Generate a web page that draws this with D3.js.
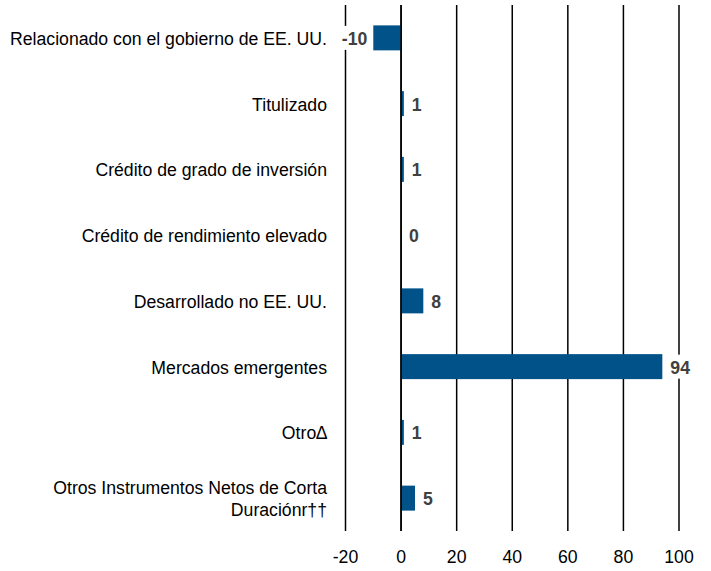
<!DOCTYPE html>
<html>
<head>
<meta charset="utf-8">
<script src="https://cdn.jsdelivr.net/npm/d3@7"></script>
<style>
  body { margin: 0; background: #fff; }
  text { font-family: "Liberation Sans", Arial, sans-serif; }
</style>
</head>
<body>
<script>
const categories = [
  ["Relacionado con el gobierno de EE. UU."],
  ["Titulizado"],
  ["Crédito de grado de inversión"],
  ["Crédito de rendimiento elevado"],
  ["Desarrollado no EE. UU."],
  ["Mercados emergentes"],
  ["Otro\u2206"],
  ["Otros Instrumentos Netos de Corta", "Duraciónr\u2020\u2020"]
];
const values = [-10, 1, 1, 0, 8, 94, 1, 5];
const ticks = [-20, 0, 20, 40, 60, 80, 100];

const width = 711;
const height = 571;
const plotTop = 5, plotBottom = 531;
const plotLeft = 345.5, plotRight = 679;
const squeeze = 0.93; // narrow look of the original font

const svg = d3.select("body")
  .append("svg")
  .attr("width", width)
  .attr("height", height);

const xScale = d3.scaleLinear()
  .domain([-20, 100])
  .range([plotLeft, plotRight]);

const yScale = d3.scaleBand()
  .domain(d3.range(categories.length))
  .range([plotTop, plotBottom])
  .paddingInner(0.62)
  .paddingOuter(0.31);

const place = (x, y) => `translate(${x},${y}) scale(${squeeze},1)`;

// gridlines
svg.append("g")
  .selectAll("line")
  .data(ticks)
  .enter()
  .append("line")
  .attr("x1", (d) => xScale(d))
  .attr("x2", (d) => xScale(d))
  .attr("y1", plotTop)
  .attr("y2", plotBottom)
  .attr("stroke", "#000")
  .attr("stroke-width", 1.5);

// tick labels
svg.append("g")
  .selectAll("text")
  .data(ticks)
  .enter()
  .append("text")
  .attr("transform", (d) => place(xScale(d), 563))
  .attr("text-anchor", "middle")
  .style("font-size", "19px")
  .attr("fill", "#000")
  .text((d) => d);

// bars
svg.append("g")
  .selectAll("rect")
  .data(values)
  .enter()
  .append("rect")
  .attr("x", (d) => xScale(Math.min(0, d)))
  .attr("y", (d, i) => yScale(i))
  .attr("width", (d) => Math.abs(xScale(d) - xScale(0)))
  .attr("height", yScale.bandwidth())
  .attr("fill", "#005288");

// zero line on top
svg.append("line")
  .attr("x1", xScale(0))
  .attr("x2", xScale(0))
  .attr("y1", plotTop)
  .attr("y2", plotBottom)
  .attr("stroke", "#000")
  .attr("stroke-width", 1.5);

// value labels, white box behind so gridlines break
svg.append("g")
  .selectAll("g")
  .data(values)
  .enter()
  .append("g")
  .each(function (d, i) {
    const g = d3.select(this);
    const cy = yScale(i) + yScale.bandwidth() / 2;
    const neg = d < 0;
    const x = neg ? xScale(d) - 6 : xScale(d) + 8;
    const t = g.append("text")
      .attr("transform", place(x, cy + 7))
      .attr("text-anchor", neg ? "end" : "start")
      .style("font-size", "19px")
      .style("font-weight", "bold")
      .attr("fill", "#404040")
      .text(d);
    const b = t.node().getBBox();
    const w = b.width * squeeze;
    const bx = neg ? x - w : x;
    g.insert("rect", "text")
      .attr("x", bx - 2)
      .attr("y", cy - 12)
      .attr("width", w + 4)
      .attr("height", 24)
      .attr("fill", "#fff");
  });

// category labels
svg.append("g")
  .selectAll("text")
  .data(categories)
  .enter()
  .append("text")
  .attr("text-anchor", "end")
  .attr("fill", "#000")
  .style("font-size", "19px")
  .each(function (lines, i) {
    const cy = yScale(i) + yScale.bandwidth() / 2;
    const lh = 22;
    const y0 = cy + 7 - (lines.length - 1) * lh / 2;
    d3.select(this)
      .attr("transform", place(327, y0))
      .selectAll("tspan")
      .data(lines)
      .enter()
      .append("tspan")
      .attr("x", 0)
      .attr("y", (l, j) => j * lh)
      .text((l) => l);
  });
</script>
</body>
</html>
